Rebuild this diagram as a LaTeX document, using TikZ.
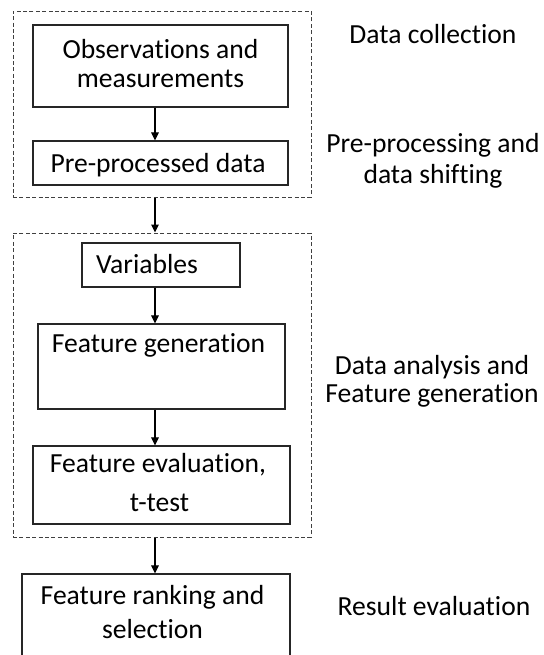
\documentclass[tikz,border=0pt]{standalone}
\usepackage{fontspec}
\setmainfont{Carlito}[Ligatures={NoCommon,NoContextual},RawFeature={-liga;-clig;-calt}]
\usetikzlibrary{fit,arrows.meta}
\begin{document}
\begin{tikzpicture}[x=0.5pt,y=-0.5pt,
  box/.style={draw=black!85, line width=0.65pt, inner sep=0pt, fill=none},
  group/.style={draw=black!75, line width=0.5pt, dash pattern=on 2pt off 1.2pt, inner sep=0pt},
  arr/.style={draw=black, line width=0.55pt, -{Triangle[length=4pt,width=3.8pt]}},
  txt/.style={anchor=base, inner sep=0pt, font=\fontsize{13.8pt}{16pt}\selectfont}]
\useasboundingbox (0,0) rectangle (543,655);
\coordinate (ax) at (155,0);
% groups
\node[group, fit={(13,11) (311,197)}] (g1) {};
\node[group, fit={(13,233) (311,537)}] (g2) {};
% boxes
\node[box, fit={(33,25) (288,107)}] (obs) {};
\node[box, fit={(33,141) (288,185)}] (pre) {};
\node[box, fit={(82,243) (240,287)}] (var) {};
\node[box, fit={(38,324) (285,409)}] (gen) {};
\node[box, fit={(33,446) (290,524)}] (eval) {};
\node[box, fit={(22,574) (290,700)}] (rank) {};
% box texts
\node[txt] (obs1) at (160.5,58) {Observations and};
\node[txt] (obs2) at (160.5,87) {measurements};
\node[txt] (pre1) at (158,172) {Pre-processed data};
\node[txt] (var1) at (147,273) {Variables};
\node[txt] (gen1) at (158.5,352) {Feature generation};
\node[txt] (eval1) at (158,472) {Feature evaluation,};
\node[txt] (eval2) at (159.5,511) {t-test};
\node[txt] (rank1) at (152.5,604) {Feature ranking and};
\node[txt] (rank2) at (152.5,638) {selection};
% stage labels
\node[txt] (l1) at (433,43) {Data collection};
\node[txt] (l2a) at (433,152) {Pre-processing and};
\node[txt] (l2b) at (433,183) {data shifting};
\node[txt] (l3a) at (432,374) {Data analysis and};
\node[txt] (l3b) at (432,402) {Feature generation};
\node[txt] (l4) at (434,615) {Result evaluation};
% arrows
\draw[arr] (obs.south -| ax) -- (pre.north -| ax);
\draw[arr] (g1.south -| ax) -- (g2.north -| ax);
\draw[arr] (var.south -| ax) -- (gen.north -| ax);
\draw[arr] (gen.south -| ax) -- (eval.north -| ax);
\draw[arr] (g2.south -| ax) -- (rank.north -| ax);
\end{tikzpicture}
\end{document}
